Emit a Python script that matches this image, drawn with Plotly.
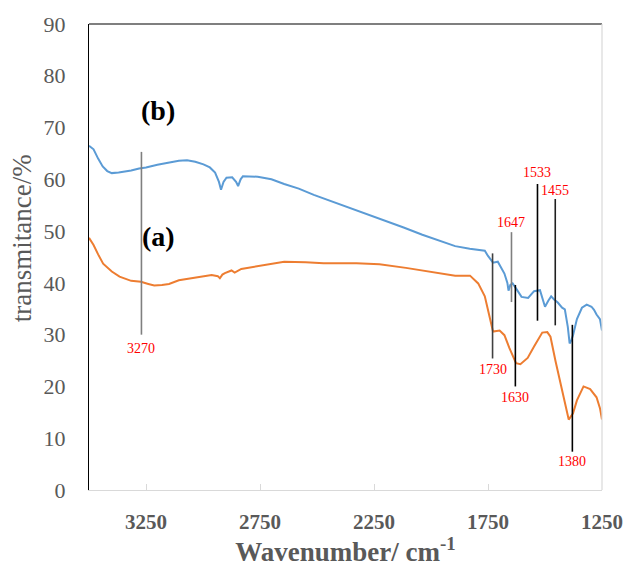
import plotly.graph_objects as go

# FTIR spectra: wavenumber (cm-1) and transmittance (%)
wn_b = [3500, 3480, 3460, 3440, 3420, 3400, 3370, 3340, 3315, 3280, 3250, 3200,
        3150, 3106, 3070, 3034, 2998, 2970, 2947, 2930, 2921, 2910, 2897, 2872,
        2855, 2846, 2835, 2825, 2760, 2700, 2644, 2580, 2514, 2450, 2399, 2300,
        2211, 2120, 2038, 1981, 1894, 1830, 1764, 1750, 1728, 1707, 1690, 1678,
        1665, 1660, 1652, 1642, 1625, 1603, 1574, 1548, 1522, 1510, 1500, 1485,
        1473, 1460, 1444, 1425, 1413, 1400, 1392, 1384, 1377, 1360, 1338, 1317,
        1296, 1285, 1274, 1259, 1250]
t_b = [66.5, 65.8, 64.0, 62.5, 61.6, 61.2, 61.3, 61.5, 61.7, 62.1, 62.3, 62.8,
       63.3, 63.6, 63.7, 63.4, 62.9, 62.3, 61.3, 59.5, 58.0, 59.5, 60.3, 60.4,
       59.5, 58.7, 60.0, 60.6, 60.5, 60.0, 59.1, 58.2, 57.0, 56.0, 55.1, 53.6,
       52.2, 50.7, 49.3, 48.4, 47.1, 46.6, 46.2, 45.2, 43.9, 44.1, 42.8, 41.8,
       40.0, 38.5, 39.6, 39.9, 38.8, 37.3, 37.1, 38.4, 38.6, 37.0, 35.4, 36.6,
       37.4, 36.8, 36.2, 35.2, 34.9, 31.5, 28.3, 29.0, 29.9, 33.0, 35.2, 35.8,
       35.4, 34.8, 33.9, 33.0, 30.8]

wn_a = [3500, 3480, 3460, 3438, 3400, 3366, 3315, 3272, 3240, 3214, 3180, 3149,
        3106, 3030, 2962, 2935, 2926, 2915, 2904, 2875, 2861, 2832, 2760, 2673,
        2644, 2550, 2471, 2327, 2226, 2110, 1980, 1894, 1829, 1793, 1764, 1742,
        1728, 1699, 1678, 1656, 1627, 1608, 1576, 1548, 1512, 1490, 1476, 1454,
        1432, 1411, 1396, 1377, 1360, 1331, 1302, 1274, 1259, 1250]
t_a = [48.7, 47.3, 45.5, 43.7, 42.2, 41.2, 40.4, 40.2, 39.8, 39.5, 39.6, 39.8,
       40.5, 41.0, 41.5, 41.3, 40.9, 41.6, 41.9, 42.4, 42.0, 42.7, 43.2, 43.8,
       44.1, 44.0, 43.8, 43.8, 43.6, 42.9, 42.0, 41.4, 41.4, 39.9, 37.4, 33.6,
       30.6, 30.8, 29.9, 27.4, 24.5, 24.3, 25.5, 27.7, 30.4, 30.5, 29.6, 24.9,
       20.5, 16.7, 13.6, 14.8, 17.3, 20.0, 19.5, 17.9, 15.8, 13.6]

# Band assignments marked with vertical guide lines
peak_wn = [3270, 1730, 1647, 1630, 1533, 1455, 1380]
line_top = [65.3, 45.7, 49.8, 39.6, 59.1, 56.2, 31.9]
line_bottom = [30.0, 25.4, 36.3, 20.0, 32.7, 31.8, 7.4]
label_y = [27.3, 23.2, 51.7, 17.8, 61.4, 57.8, 5.5]
line_colors = ["#7f7f7f", "#404040", "#7f7f7f", "#000000", "#000000", "#202020", "#000000"]

x_ticks = [3250, 2750, 2250, 1750, 1250]

fig = go.Figure()

fig.add_trace(go.Scatter(x=wn_b, y=t_b, mode="lines",
                         line=dict(color="#5B9BD5", width=2), showlegend=False))
fig.add_trace(go.Scatter(x=wn_a, y=t_a, mode="lines",
                         line=dict(color="#ED7D31", width=2), showlegend=False))

for wn, top, bot, col in zip(peak_wn, line_top, line_bottom, line_colors):
    fig.add_trace(go.Scatter(x=[wn, wn], y=[bot, top], mode="lines",
                             line=dict(color=col, width=1.6), showlegend=False,
                             hoverinfo="skip"))

for wn, ly in zip(peak_wn, label_y):
    fig.add_annotation(x=wn, y=ly, text=str(wn), showarrow=False,
                       font=dict(family="Liberation Serif", size=14, color="#FF0000"))

# Sample labels
fig.add_annotation(x=3197, y=73.2, text="<b>(b)</b>", showarrow=False,
                   font=dict(family="Liberation Serif", size=28, color="#000000"))
fig.add_annotation(x=3194, y=49.0, text="<b>(a)</b>", showarrow=False,
                   font=dict(family="Liberation Serif", size=28, color="#000000"))

# Y axis title
fig.add_annotation(xref="paper", yref="paper", x=-0.129, y=0.54, xanchor="center",
                   yanchor="middle", text="transmitance/%", textangle=-90,
                   showarrow=False,
                   font=dict(family="Liberation Serif", size=27, color="#595959"))

# Frame: dark top edge, light right edge
fig.add_shape(type="line", xref="paper", yref="paper", x0=0, x1=1, y0=1, y1=1,
              line=dict(color="#000000", width=1.2))
fig.add_shape(type="line", xref="paper", yref="paper", x0=1, x1=1, y0=0, y1=1,
              line=dict(color="#d9d9d9", width=1.2))

fig.update_layout(
    width=635, height=567,
    margin=dict(l=89, r=26, t=14, b=75),
    paper_bgcolor="white", plot_bgcolor="white",
    font=dict(family="Liberation Serif", color="#595959"),
    xaxis=dict(range=[3500, 1250], tickvals=x_ticks,
               ticktext=[f"<b>{v}</b>" for v in x_ticks],
               ticks="inside", ticklen=6, tickcolor="#d9d9d9",
               showline=True, linecolor="#d9d9d9", linewidth=1.2,
               showgrid=False, zeroline=False, ticklabelstandoff=13,
               tickfont=dict(family="Liberation Serif", size=21, color="#595959"),
               title=dict(text="<b>Wavenumber/ cm<sup>-1</sup></b>", standoff=2,
                          font=dict(family="Liberation Serif", size=27, color="#595959"))),
    yaxis=dict(range=[0, 90], dtick=10, ticks="", showline=True,
               linecolor="#000000", linewidth=1.2, showgrid=False, zeroline=False,
               ticklabelstandoff=18,
               tickfont=dict(family="Liberation Serif", size=22, color="#595959")),
)

fig.write_html("out.html")
